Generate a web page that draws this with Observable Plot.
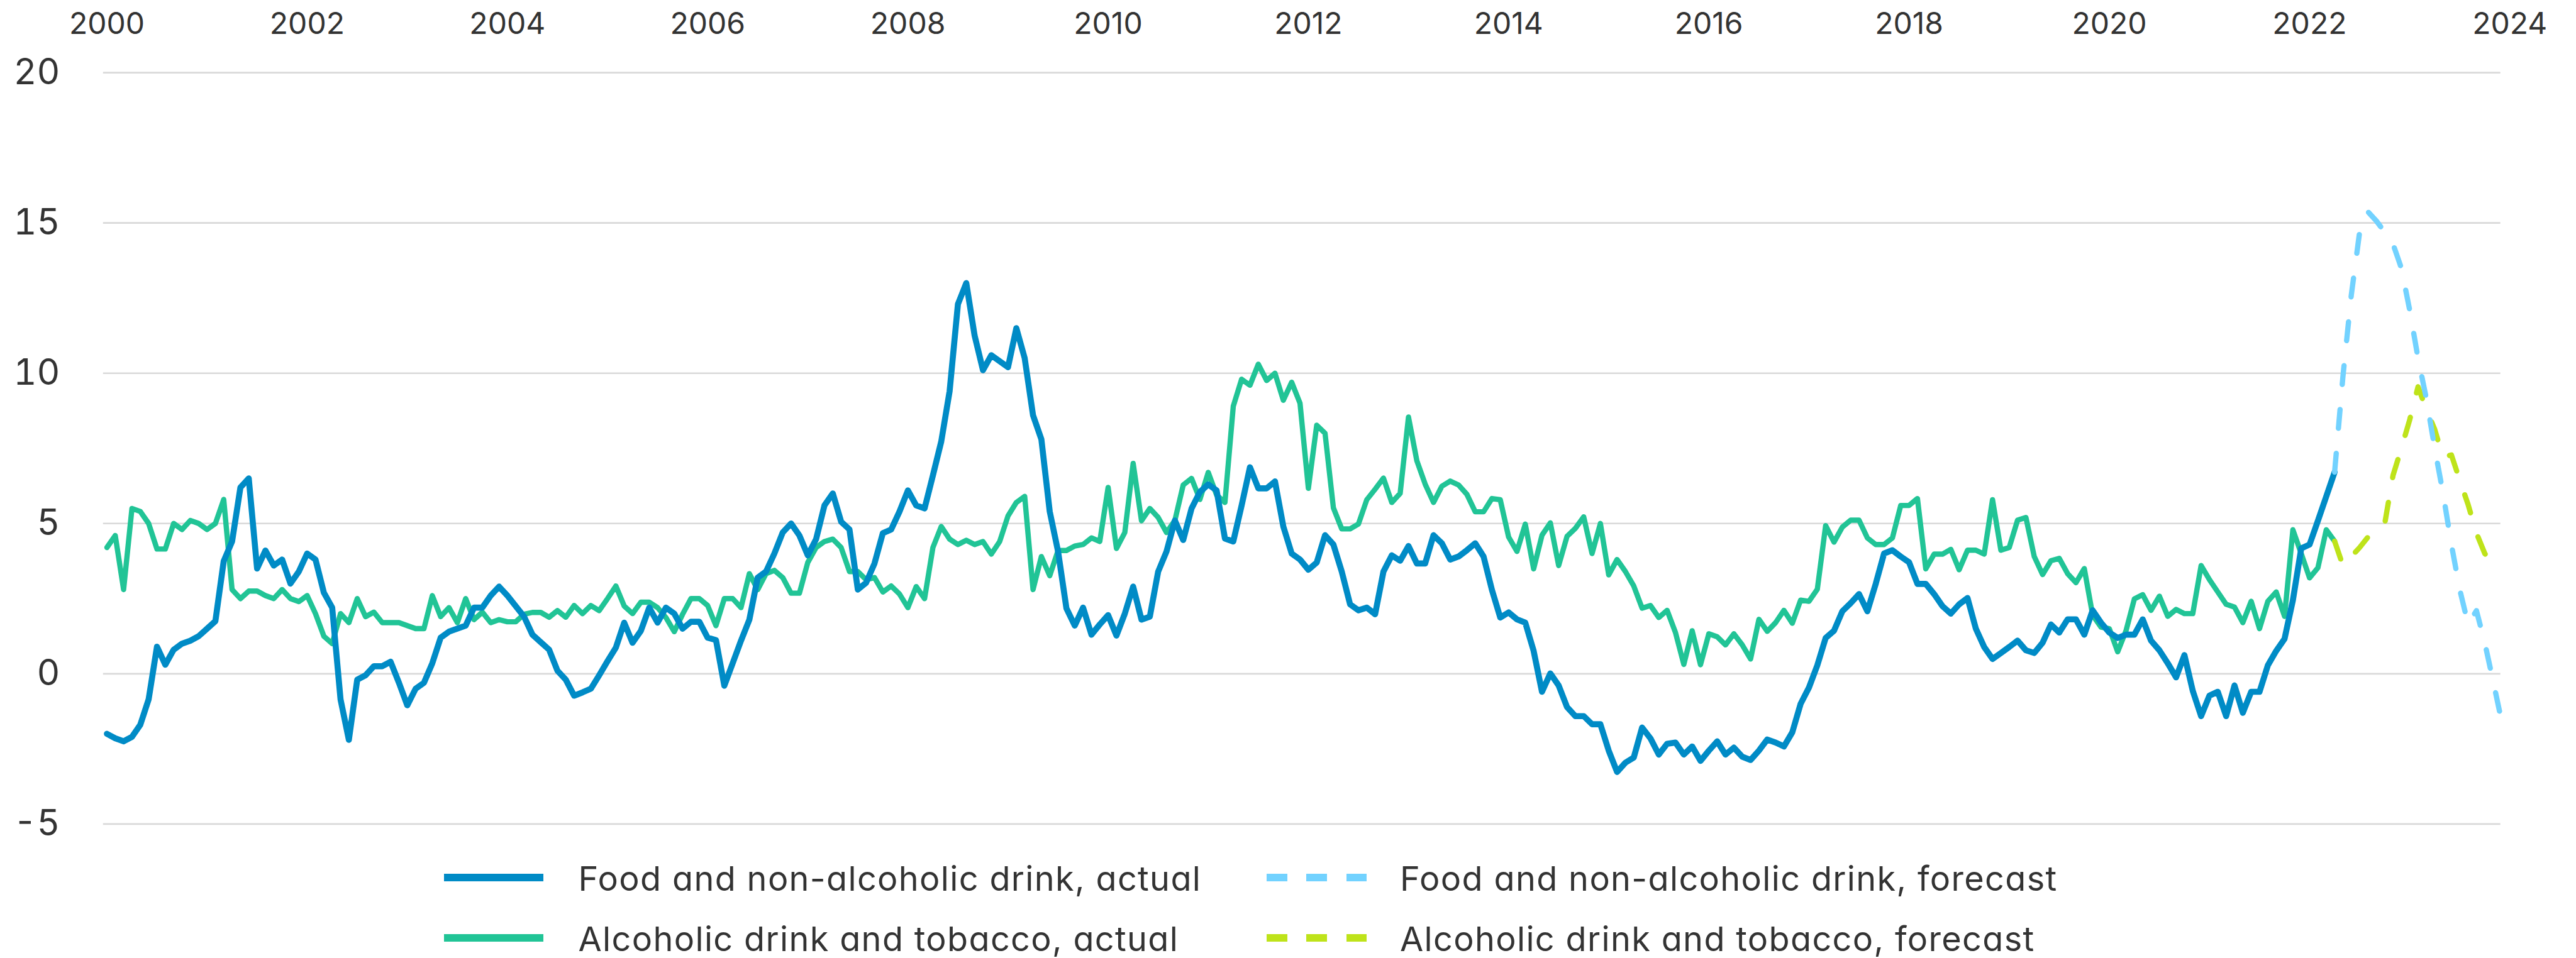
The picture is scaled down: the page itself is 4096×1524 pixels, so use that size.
<!DOCTYPE html>
<html>
<head>
<meta charset="utf-8">
<script src="https://cdn.jsdelivr.net/npm/d3@7"></script>
<script src="https://cdn.jsdelivr.net/npm/@observablehq/plot@0.6"></script>
<style>
  html, body { margin: 0; padding: 0; background: #ffffff; }
  body { width: 4096px; height: 1524px; overflow: hidden; font-family: Inter, "Noto Sans", sans-serif; font-feature-settings: "cv11" 1; color: #333333; }
  #chart svg text { font-family: Inter, "Noto Sans", sans-serif; font-feature-settings: "cv11" 1; }
  #legend { position: relative; width: 4096px; height: 184px; }
  .sw { position: absolute; height: 12px; }
  .lt { position: absolute; font-size: 54px; line-height: 54px; letter-spacing: 1.35px; white-space: nowrap; color: #333333; }
</style>
</head>
<body>
<div id="chart"></div>
<div id="legend"></div>
<script>
// Annual % change, monthly from Jan 2000
const foodActual = [
  -2.0, -2.15, -2.25, -2.1, -1.7, -0.85, 0.9, 0.3, 0.8, 1.0, 1.1, 1.25,
  1.5, 1.75, 3.75, 4.4, 6.2, 6.5, 3.5, 4.1, 3.6, 3.8, 3.0, 3.4,
  4.0, 3.8, 2.7, 2.2, -0.85, -2.2, -0.2, -0.05, 0.25, 0.25, 0.4, -0.3,
  -1.05, -0.5, -0.3, 0.35, 1.2, 1.4, 1.5, 1.6, 2.2, 2.2, 2.6, 2.9,
  2.6, 2.25, 1.9, 1.3, 1.05, 0.8, 0.1, -0.2, -0.73, -0.62, -0.5, -0.05,
  0.42, 0.87, 1.7, 1.03, 1.43, 2.2, 1.7, 2.2, 2.0, 1.5, 1.73, 1.73,
  1.2, 1.12, -0.4, 0.35, 1.1, 1.8, 3.2, 3.4, 4.0, 4.7, 5.0, 4.6,
  3.94, 4.48, 5.6, 6.0, 5.06, 4.8, 2.8, 3.03, 3.67, 4.68, 4.8, 5.4,
  6.1, 5.6, 5.5, 6.6, 7.73, 9.4, 12.3, 13.0, 11.25, 10.1, 10.6, 10.4,
  10.2, 11.5, 10.5, 8.6, 7.8, 5.4, 4.07, 2.18, 1.6, 2.2, 1.3, 1.64,
  1.95, 1.27, 2.0, 2.9, 1.8, 1.9, 3.4, 4.07, 5.1, 4.45, 5.5, 6.05,
  6.3, 6.1, 4.5, 4.4, 5.6, 6.87, 6.17, 6.17, 6.4, 4.9, 4.0, 3.8,
  3.46, 3.7, 4.61, 4.3, 3.4, 2.31, 2.11, 2.2, 1.98, 3.4, 3.94, 3.76,
  4.25, 3.67, 3.67, 4.61, 4.34, 3.8, 3.9, 4.11, 4.34, 3.9, 2.79, 1.87,
  2.04, 1.81, 1.7, 0.76, -0.6, 0.01, -0.39, -1.11, -1.41, -1.41, -1.68, -1.68,
  -2.56, -3.27, -2.96, -2.79, -1.79, -2.15, -2.69, -2.33, -2.29, -2.69, -2.42, -2.9,
  -2.56, -2.25, -2.69, -2.46, -2.76, -2.87, -2.56, -2.19, -2.29, -2.42, -1.95, -1.0,
  -0.46, 0.28, 1.19, 1.43, 2.08, 2.35, 2.65, 2.08, 2.99, 4.0, 4.11, 3.9,
  3.71, 2.99, 2.99, 2.65, 2.25, 2.0, 2.31, 2.52, 1.5, 0.89, 0.49, 0.69,
  0.89, 1.1, 0.78, 0.69, 1.03, 1.64, 1.37, 1.81, 1.81, 1.3, 2.11, 1.7,
  1.37, 1.19, 1.3, 1.3, 1.81, 1.1, 0.78, 0.35, -0.12, 0.62, -0.57, -1.41,
  -0.73, -0.6, -1.41, -0.39, -1.3, -0.6, -0.6, 0.28, 0.76, 1.16, 2.45, 4.17,
  4.3, 5.09, 5.9, 6.71
];

const alcoholActual = [
  4.2, 4.6, 2.8, 5.5, 5.4, 5.0, 4.15, 4.15, 5.0, 4.8, 5.1, 5.0,
  4.8, 5.0, 5.8, 2.8, 2.5, 2.75, 2.75, 2.6, 2.5, 2.8, 2.5, 2.4,
  2.6, 2.0, 1.25, 1.0, 2.0, 1.7, 2.5, 1.9, 2.05, 1.7, 1.7, 1.7,
  1.6, 1.5, 1.5, 2.6, 1.9, 2.2, 1.7, 2.5, 1.8, 2.05, 1.7, 1.8,
  1.73, 1.73, 1.98, 2.04, 2.04, 1.88, 2.1, 1.88, 2.27, 2.0, 2.27, 2.1,
  2.5, 2.92, 2.25, 2.0, 2.38, 2.38, 2.2, 1.87, 1.4, 1.98, 2.5, 2.5,
  2.27, 1.6, 2.5, 2.5, 2.2, 3.33, 2.8, 3.33, 3.44, 3.2, 2.68, 2.68,
  3.7, 4.2, 4.4, 4.48, 4.2, 3.4, 3.4, 3.13, 3.2, 2.72, 2.92, 2.65,
  2.2, 2.9, 2.5, 4.2, 4.9, 4.48, 4.3, 4.44, 4.3, 4.4, 3.98, 4.4,
  5.25, 5.7, 5.9, 2.8, 3.9, 3.26, 4.1, 4.1, 4.25, 4.3, 4.52, 4.4,
  6.2, 4.17, 4.7, 7.0, 5.09, 5.5, 5.2, 4.7, 5.1, 6.28, 6.5, 5.8,
  6.7, 5.95, 5.7, 8.9, 9.8, 9.6, 10.3, 9.76, 10.0, 9.1, 9.7, 9.0,
  6.17, 8.27, 8.0, 5.52, 4.82, 4.82, 4.98, 5.79, 6.14, 6.51, 5.7, 6.0,
  8.54, 7.09, 6.31, 5.7, 6.24, 6.41, 6.28, 5.97, 5.39, 5.39, 5.83, 5.79,
  4.55, 4.07, 4.98, 3.49, 4.61, 5.02, 3.6, 4.57, 4.84, 5.22, 4.0, 5.0,
  3.29, 3.8, 3.4, 2.92, 2.18, 2.27, 1.87, 2.11, 1.37, 0.31, 1.43, 0.3,
  1.33, 1.23, 0.96, 1.33, 0.96, 0.49, 1.81, 1.41, 1.7, 2.11, 1.68, 2.45,
  2.41, 2.81, 4.93, 4.38, 4.88, 5.11, 5.11, 4.52, 4.3, 4.3, 4.52, 5.6,
  5.6, 5.83, 3.49, 3.98, 3.98, 4.14, 3.46, 4.11, 4.11, 3.98, 5.79, 4.11,
  4.2, 5.11, 5.2, 3.9, 3.3, 3.76, 3.84, 3.33, 3.03, 3.5, 1.95, 1.55,
  1.5, 0.73, 1.43, 2.49, 2.63, 2.11, 2.58, 1.91, 2.14, 2.0, 2.0, 3.6,
  3.13, 2.72, 2.31, 2.22, 1.7, 2.41, 1.5, 2.41, 2.72, 1.91, 4.79, 4.0,
  3.19, 3.53, 4.79, 4.41
];

// Forecasts start from the last actual month (Apr 2022) and run to Dec 2023
const forecastStart = 267;
const foodForecast = [
  6.71, 9.9, 12.6, 14.7, 15.37, 15.07, 14.7, 14.3, 13.5, 12.1, 10.5,
  9.15, 7.5, 6.0, 4.3, 2.8, 1.65, 2.1, 1.03, -0.25, -1.55
];
const alcoholForecast = [
  4.41, 3.6, 3.9, 4.2, 4.55, 4.75, 4.98, 6.6, 7.5, 8.45, 9.55,
  8.8, 8.13, 7.2, 7.28, 6.44, 5.63, 4.68, 4.0, 3.63, 3.48
];

const yearTicks = [2000, 2002, 2004, 2006, 2008, 2010, 2012, 2014, 2016, 2018, 2020, 2022, 2024];
const yTicks = [-5, 0, 5, 10, 15, 20];

const seriesNames = [
  "Food and non-alcoholic drink, actual",
  "Alcoholic drink and tobacco, actual",
  "Food and non-alcoholic drink, forecast",
  "Alcoholic drink and tobacco, forecast"
];
const seriesColors = ["#008bc6", "#21c496", "#72d2ff", "#bee31a"];

// month index (0 = Jan 2000) paired with value
const toRows = (values, start) => values.map((v, i) => ({m: start + i, v}));
const foodRows = toRows(foodActual, 0);
const alcoholRows = toRows(alcoholActual, 0);
const foodFcRows = toRows(foodForecast, forecastStart);
const alcoholFcRows = toRows(alcoholForecast, forecastStart);
const lastMonth = forecastStart + foodForecast.length - 1;

const chart = Plot.plot({
  width: 4096,
  height: 1340,
  marginTop: 115.2,
  marginBottom: 29.7,
  marginLeft: 169.5,
  marginRight: 119,
  x: {type: "linear", domain: [0, lastMonth], axis: null},
  y: {type: "linear", domain: [-5, 20], axis: null},
  style: {background: "#ffffff", color: "#333333", overflow: "visible"},
  marks: [
    Plot.ruleY(yTicks, {x1: -0.43, x2: lastMonth - 0.1, stroke: "#d9d9d9", strokeWidth: 2.7}),
    Plot.axisY(yTicks, {
      tickSize: 0, tickPadding: 74.5, fontSize: 57, fill: "#333333",
      tickFormat: d => String(d), label: null
    }),
    Plot.text(yearTicks, {
      x: d => (d - 2000) * 12, frameAnchor: "top", dy: -77.3,
      text: d => String(d), fontSize: 48, fill: "#333333", lineAnchor: "middle", textAnchor: "middle"
    }),
    Plot.line(alcoholRows, {x: "m", y: "v", stroke: seriesColors[1], strokeWidth: 8.4, strokeLinejoin: "round", strokeLinecap: "round"}),
    Plot.line(foodRows, {x: "m", y: "v", stroke: seriesColors[0], strokeWidth: 9.6, strokeLinejoin: "round", strokeLinecap: "round"}),
    Plot.line(alcoholFcRows, {x: "m", y: "v", stroke: seriesColors[3], strokeWidth: 8.4, strokeDasharray: "30,40", strokeLinejoin: "round", strokeLinecap: "round"}),
    Plot.line(foodFcRows, {x: "m", y: "v", stroke: seriesColors[2], strokeWidth: 8.4, strokeDasharray: "30,40", strokeLinejoin: "round", strokeLinecap: "round"})
  ]
});
document.getElementById("chart").appendChild(chart);

// Legend: two rows, solid swatches for actuals, dashed for forecasts
const legend = document.getElementById("legend");
const legendItems = [
  {name: seriesNames[0], color: seriesColors[0], dashed: false, col: 0, row: 0},
  {name: seriesNames[1], color: seriesColors[1], dashed: false, col: 0, row: 1},
  {name: seriesNames[2], color: seriesColors[2], dashed: true, col: 1, row: 0},
  {name: seriesNames[3], color: seriesColors[3], dashed: true, col: 1, row: 1}
];
const colSwatchX = [706, 2013.6];
const colTextX = [919.5, 2226];
const rowCenter = [56, 152];
for (const it of legendItems) {
  const sw = document.createElement("div");
  sw.className = "sw";
  sw.style.left = colSwatchX[it.col] + "px";
  sw.style.top = (rowCenter[it.row] - 6) + "px";
  if (it.dashed) {
    sw.style.width = "160px";
    sw.style.background = `repeating-linear-gradient(to right, ${it.color} 0px, ${it.color} 32.6px, transparent 32.6px, transparent 63.4px)`;
  } else {
    sw.style.width = "157.5px";
    sw.style.background = it.color;
  }
  legend.appendChild(sw);
  const t = document.createElement("div");
  t.className = "lt";
  t.style.left = colTextX[it.col] + "px";
  t.style.top = (rowCenter[it.row] + 2 - 27) + "px";
  t.textContent = it.name;
  legend.appendChild(t);
}
</script>
</body>
</html>
